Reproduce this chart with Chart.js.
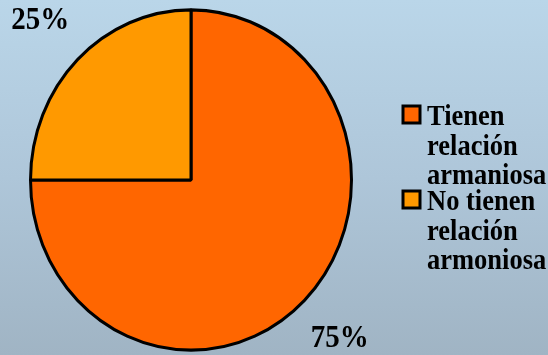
<!DOCTYPE html>
<html>
<head>
<meta charset="utf-8">
<script src="https://cdn.jsdelivr.net/npm/chart.js@4/dist/chart.umd.min.js"></script>
<style>
    html, body {
        margin: 0;
        padding: 0;
        width: 548px;
        height: 355px;
        overflow: hidden;
        background: linear-gradient(to bottom, #bad6e9 0%, #aec6d9 50%, #a0b4c4 100%);
    }
    #chartWrap { position: relative; width: 548px; height: 355px; }
</style>
</head>
<body>
<div id="chartWrap"><canvas id="pieChart"></canvas></div>
<script>
// Chart data
const categories = ['Tienen relación armaniosa', 'No tienen relación armoniosa'];
const legendLines = [
    ['Tienen', 'relación', 'armaniosa'],
    ['No tienen', 'relación', 'armoniosa']
];
const values = [75, 25];
const valueLabels = ['75%', '25%'];
const sliceColors = ['#ff6600', '#ff9900'];

const SERIF = '"Liberation Serif", "Times New Roman", serif';
const STRETCH_Y = 1.06; // the original is a bit taller than wide

// Stretch the pie vertically around its centre
const stretchPlugin = {
    id: 'stretch',
    beforeDatasetsDraw(chart) {
        const arc = chart.getDatasetMeta(0).data[0];
        const ctx = chart.ctx;
        ctx.save();
        ctx.translate(arc.x, arc.y);
        ctx.scale(1, STRETCH_Y);
        ctx.translate(-arc.x, -arc.y);
    },
    afterDatasetsDraw(chart) {
        chart.ctx.restore();
    }
};

// text with the same vertical stretch
function tallText(ctx, text, x, y) {
    ctx.save();
    ctx.translate(x, y);
    ctx.scale(1, 1.08);
    ctx.fillText(text, 0, 0);
    ctx.restore();
}

// Percent labels outside the slices
const percentPlugin = {
    id: 'percentLabels',
    afterDraw(chart) {
        const ctx = chart.ctx;
        const meta = chart.getDatasetMeta(0);
        ctx.save();
        ctx.font = 'bold 29px ' + SERIF;
        ctx.fillStyle = '#000';
        ctx.textAlign = 'center';
        ctx.textBaseline = 'middle';
        meta.data.forEach((arc, i) => {
            const mid = (arc.startAngle + arc.endAngle) / 2;
            const r = arc.outerRadius * 1.32;
            const x = arc.x + Math.cos(mid) * r - 1;
            const y = arc.y + Math.sin(mid) * r * STRETCH_Y;
            tallText(ctx, valueLabels[i], x, y);
        });
        ctx.restore();
    }
};

// Legend drawn by hand, labels wrap on three lines
const legendPlugin = {
    id: 'wrappedLegend',
    afterDraw(chart) {
        const ctx = chart.ctx;
        const left = 403;
        const top = 106;
        const itemGap = 85;
        const lineOffsets = [19, 49, 78];
        ctx.save();
        ctx.font = 'bold 26.5px ' + SERIF;
        ctx.textAlign = 'left';
        ctx.textBaseline = 'alphabetic';
        categories.forEach((cat, i) => {
            const y = top + i * itemGap;
            ctx.fillStyle = sliceColors[i];
            ctx.fillRect(left, y, 17, 17);
            ctx.lineWidth = 3;
            ctx.strokeStyle = '#000';
            ctx.strokeRect(left, y, 17, 17);
            ctx.fillStyle = '#000';
            legendLines[i].forEach((line, j) => {
                tallText(ctx, line, left + 24, y + lineOffsets[j]);
            });
        });
        ctx.restore();
    }
};

function initializeChart() {
    const ctx = document.getElementById('pieChart').getContext('2d');
    new Chart(ctx, {
        type: 'pie',
        data: {
            labels: categories,
            datasets: [{
                data: values,
                backgroundColor: sliceColors,
                borderColor: '#000',
                borderWidth: 3
            }]
        },
        options: {
            responsive: true,
            maintainAspectRatio: false,
            animation: false,
            layout: {
                padding: { left: 29, right: 195, top: 18, bottom: 13 }
            },
            plugins: {
                legend: { display: false },
                tooltip: { enabled: false }
            }
        },
        plugins: [stretchPlugin, percentPlugin, legendPlugin]
    });
}

document.addEventListener('DOMContentLoaded', initializeChart);
</script>
</body>
</html>
